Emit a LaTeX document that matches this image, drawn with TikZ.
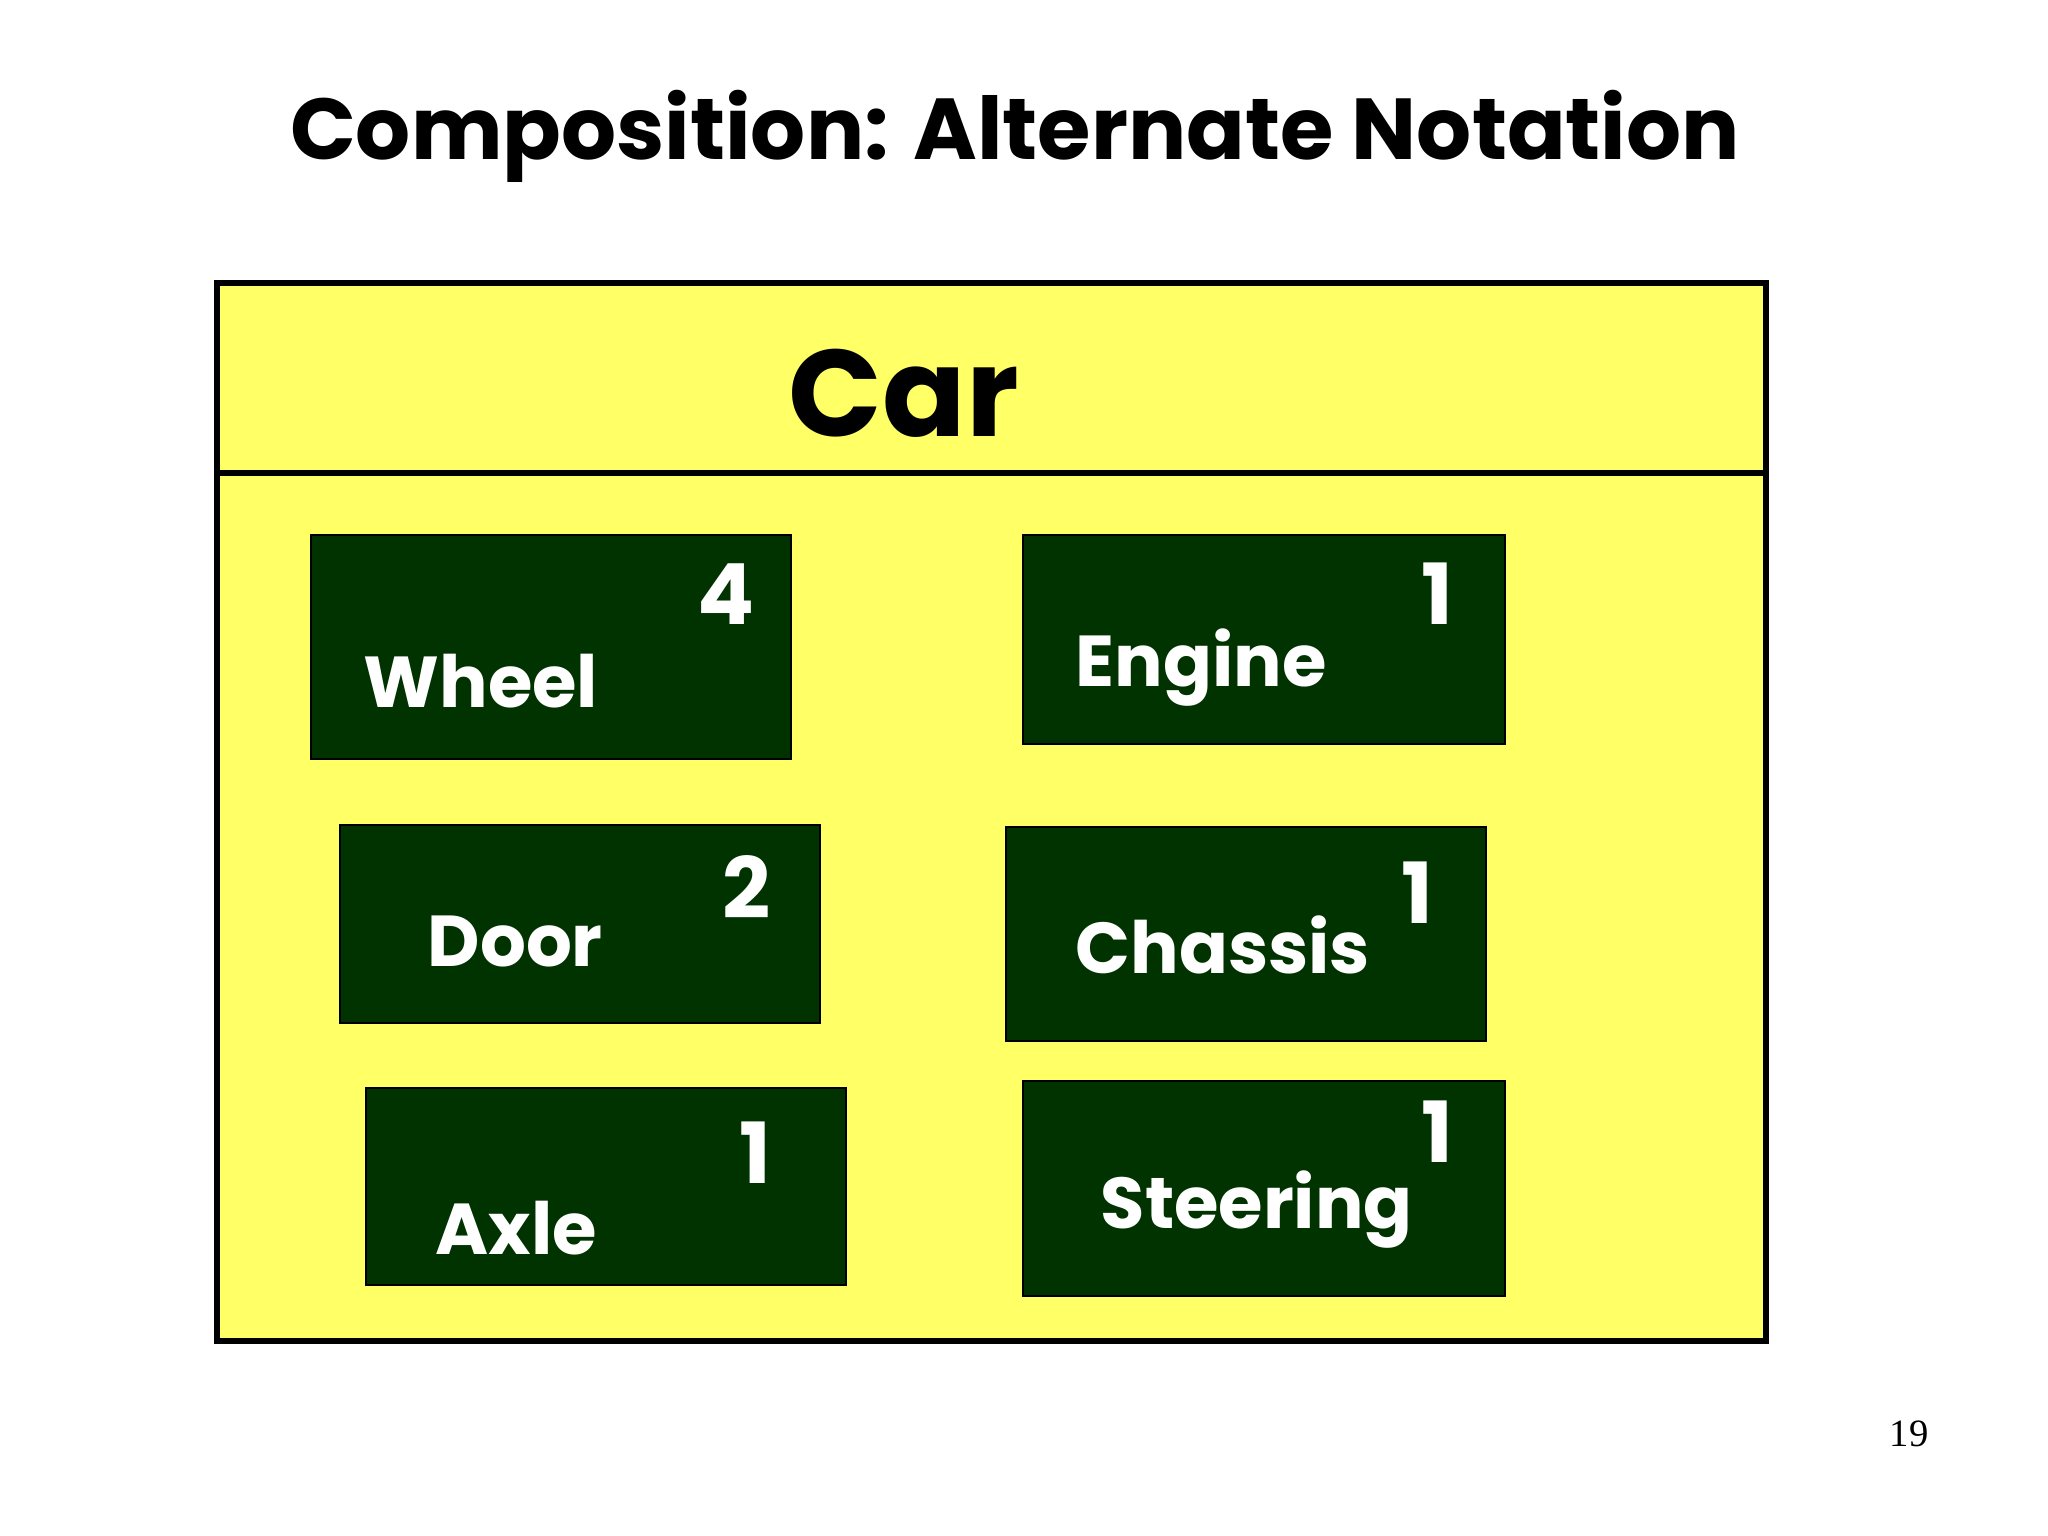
\documentclass[tikz,border=0pt]{standalone}
\usepackage{fontspec}
\setmainfont{Poppins}
\newfontfamily\pagefont{Liberation Serif}
\usepackage{tikz}
\usetikzlibrary{positioning}

\definecolor{carfill}{HTML}{FFFF66}
\definecolor{partfill}{HTML}{003300}

\tikzset{
  partbox/.style={fill=partfill, draw=black, line width=0.4pt},
  partname/.style={anchor=base west, inner sep=0pt, text=white, font=\fontsize{20.5}{25}\selectfont\bfseries},
  mult/.style={anchor=base, inner sep=0pt, text=white, font=\fontsize{24}{28}\selectfont\bfseries}
}

\begin{document}
\begin{tikzpicture}[x=0.01cm, y=-0.01cm]
                \useasboundingbox[fill=white] (0,0) rectangle (2048,1536);

                \node[anchor=base, inner sep=0pt, font=\fontsize{24.6}{30}\selectfont\bfseries] (title) at (1015,159) {Composition: Alternate Notation};

                % the whole class
                \draw[fill=carfill, line width=1.9pt] (217,283) rectangle (1766,1341);
                \draw[line width=1.9pt] (217,473) -- (1766,473);
                \node[font=\fontsize{35}{40}\selectfont\bfseries, inner sep=0pt] (car) at (904,393) {Car};

                % parts
                \draw[partbox] (311,535) rectangle (791,759);
                \draw[partbox] (1023,535) rectangle (1505,744);
                \draw[partbox] (340,825) rectangle (820,1023);
                \draw[partbox] (1006,827) rectangle (1486,1041);
                \draw[partbox] (366,1088) rectangle (846,1285);
                \draw[partbox] (1023,1081) rectangle (1505,1296);

                \node[partname] (wheel) at (363,707) {Wheel};
                \node[partname] (engine) at (1075,686) {Engine};
                \node[partname] (door) at (427,966) {Door};
                \node[partname] (chassis) at (1075,973) {Chassis};
                \node[partname] (axle) at (435,1254) {Axle};
                \node[partname] (steering) at (1100,1228) {Steering};

                \node[mult] (wheelm) at (726,624) {4};
                \node[mult] (enginem) at (1437,624) {1};
                \node[mult] (doorm) at (747,918) {2};
                \node[mult] (chassism) at (1417,923) {1};
                \node[mult] (axlem) at (755,1183) {1};
                \node[mult] (steeringm) at (1437,1162) {1};

                \node[anchor=base, inner sep=0pt, font=\pagefont\fontsize{11}{13}\selectfont] (pageno) at (1909,1446) {19};
            \end{tikzpicture}
\end{document}
